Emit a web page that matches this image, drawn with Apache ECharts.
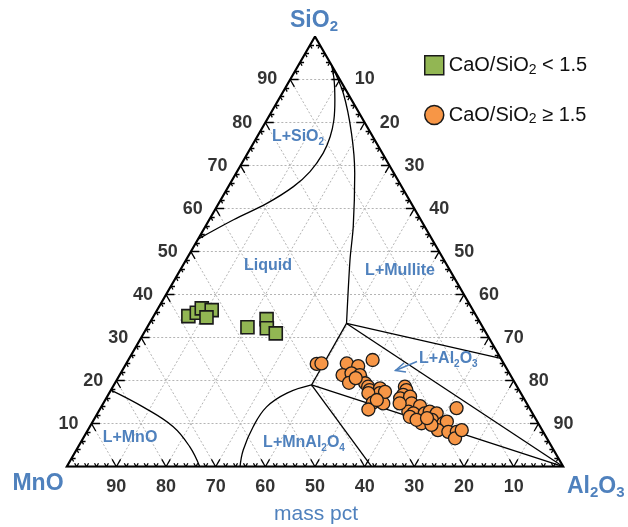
<!DOCTYPE html>
<html><head><meta charset="utf-8">
<script src="https://cdn.jsdelivr.net/npm/echarts@6/dist/echarts.min.js"></script>
<style>html,body{margin:0;padding:0;background:#fff}#c{width:628px;height:527px}</style>
</head><body><div id="c"></div>
<script>
// All compositions are [SiO2, Al2O3, MnO] in mass pct
const lowBasicity = [
  [35.0, 7.0, 58.0], [35.8, 8.3, 55.9], [36.8, 8.8, 54.4], [36.4, 11.0, 52.6], [34.7, 10.8, 54.5],
  [32.4, 20.2, 47.4], [34.3, 23.1, 42.6], [32.2, 24.2, 43.6], [31.0, 26.6, 42.4]
];
const highBasicity = [
  [23.9, 38.4, 37.7], [24.0, 39.3, 36.7], [24.0, 44.4, 31.6], [23.4, 47.0, 29.6], [24.8, 49.2, 26.0],
  [21.3, 44.9, 33.8], [21.7, 46.5, 31.8], [21.3, 48.4, 30.3], [19.5, 47.1, 33.4], [19.4, 50.4, 30.2],
  [18.6, 51.4, 30.0], [17.8, 52.1, 30.1], [18.2, 54.0, 27.8], [17.1, 54.5, 28.4], [17.1, 52.2, 30.7],
  [14.9, 54.2, 30.9], [14.7, 56.4, 28.9], [13.3, 54.1, 32.6], [17.4, 55.4, 27.2], [18.6, 58.8, 22.6],
  [17.8, 59.5, 22.7], [16.7, 59.4, 23.9], [15.9, 59.2, 24.9], [16.3, 61.0, 22.7], [14.7, 62.1, 23.2],
  [14.1, 64.1, 21.8], [12.8, 62.4, 24.8], [12.4, 63.6, 24.0], [12.4, 65.9, 21.7], [12.8, 66.7, 20.5],
  [12.4, 68.3, 19.3], [11.6, 63.3, 25.1], [10.1, 66.4, 23.5], [10.9, 68.1, 21.0], [10.1, 70.8, 19.1],
  [10.5, 71.3, 18.2], [8.5, 70.5, 21.0], [8.1, 72.8, 19.1], [8.1, 74.5, 17.4], [6.6, 74.9, 18.5],
  [8.5, 75.3, 16.2], [13.6, 71.7, 14.7], [20.6, 47.9, 31.5], [14.7, 59.7, 25.6], [10.9, 65.0, 24.1],
  [9.7, 68.6, 21.7], [11.3, 66.9, 21.8], [15.5, 54.7, 29.8]
];
// phase boundaries
const curveSiO2 = [
  [52.9, 0, 47.1], [57.4, 4.9, 37.7], [61.2, 9.7, 29.1], [65.1, 13.1, 21.8], [68.6, 14.7, 16.7],
  [72.9, 15.2, 11.9], [76.7, 14.7, 8.6], [80.6, 13.5, 5.9], [85.2, 11.4, 3.4], [89.9, 8.9, 1.2], [93.3, 6.7, 0]
];
const curveMullite = [
  [93.3, 6.7, 0], [86.8, 12.3, 0.9], [77.5, 18.6, 3.9], [68.2, 23.9, 7.9], [55.8, 29.8, 14.4],
  [48.1, 33.0, 18.9], [33.3, 39.7, 27.0]
];
const curveMnO = [
  [17.8, 0, 82.2], [13.9, 8.4, 77.7], [9.3, 16.8, 73.9], [4.6, 22.5, 72.9], [0, 26.8, 73.2]
];
const curveMnAl2O4 = [
  [19.0, 39.8, 41.2], [17.1, 35.8, 47.1], [13.9, 33.3, 52.8], [9.3, 32.9, 57.8], [3.9, 33.6, 62.5], [0, 34.9, 65.1]
];
const straightBoundaries = [
  [[33.3, 39.7, 27.0], [25.2, 74.8, 0]],
  [[33.3, 39.7, 27.0], [0, 100, 0]],
  [[19.0, 39.8, 41.2], [0, 100, 0]],
  [[19.0, 39.8, 41.2], [33.3, 39.7, 27.0]],
  [[19.0, 39.8, 41.2], [0, 61.4, 38.6]]
];
const majorTicks = [10, 20, 30, 40, 50, 60, 70, 80, 90];
const minorTicks = [2, 4, 6, 8, 12, 14, 16, 18, 22, 24, 26, 28, 32, 34, 36, 38, 42, 44, 46, 48,
  52, 54, 56, 58, 62, 64, 66, 68, 72, 74, 76, 78, 82, 84, 86, 88, 92, 94, 96, 98];

const S3 = Math.sqrt(3) / 2;
function T(p) { return [p[1] + p[0] / 2, p[0] * S3]; }
const BLUE = '#4f81bd';
const FONT = '"Liberation Sans", Arial, sans-serif';

// gridlines
const gridData = [];
majorTicks.forEach(v => {
  gridData.push({coords: [T([v, 0, 100 - v]), T([v, 100 - v, 0])]});
  gridData.push({coords: [T([0, v, 100 - v]), T([100 - v, v, 0])]});
  gridData.push({coords: [T([0, 100 - v, v]), T([100 - v, 0, v])]});
});
// ticks (short inward strokes along grid directions)
const tickData = [];
function addTicks(vals, len) {
  vals.forEach(v => {
    const L = T([v, 0, 100 - v]);          // left edge, SiO2 = v
    tickData.push({coords: [L, [L[0] + len, L[1]]]});
    tickData.push({coords: [L, [L[0] + len * 0.5, L[1] - len * S3]]});
    const R = T([100 - v, v, 0]);          // right edge, Al2O3 = v
    tickData.push({coords: [R, [R[0] - len, R[1]]]});
    tickData.push({coords: [R, [R[0] - len * 0.5, R[1] - len * S3]]});
    const B = T([0, 100 - v, v]);          // bottom edge, MnO = v
    tickData.push({coords: [B, [B[0] + len * 0.5, B[1] + len * S3]]});
    tickData.push({coords: [B, [B[0] - len * 0.5, B[1] + len * S3]]});
  });
}
addTicks(majorTicks, 1.7);
addTicks(minorTicks, 0.8);

const leftLabels = majorTicks.map(v => T([v, 0, 100 - v]).concat([v]));
const rightLabels = majorTicks.map(v => T([100 - v, v, 0]).concat([v]));
const bottomLabels = majorTicks.map(v => T([0, 100 - v, v]).concat([v]));

function labelSeries(data, pos, dist) {
  return {
    type: 'scatter', data: data, symbolSize: 0, silent: true,
    label: {show: true, position: pos, distance: dist, formatter: p => p.value[2],
      fontFamily: FONT, fontWeight: 'bold', fontSize: 18, color: '#000'}
  };
}
const lineSeries = (pts, smooth) => ({
  type: 'line', data: pts.map(T), smooth: smooth, symbol: 'none', silent: true,
  lineStyle: {color: '#000', width: 1.3}
});

const chart = echarts.init(document.getElementById('c'), null, {renderer: 'canvas'});
const subRich = (size, weight) => ({
  b: {fontSize: size, fontWeight: weight, fontFamily: FONT, fill: BLUE, color: BLUE, lineHeight: size + 4},
  s: {fontSize: Math.round(size * 0.65), fontWeight: weight, fontFamily: FONT, fill: BLUE, color: BLUE,
      verticalAlign: 'bottom', lineHeight: size + 4}
});
function txt(text, x, y, size, weight, align) {
  return {type: 'text', x: x, y: y, silent: true, z: 100,
    style: {text: text, rich: subRich(size, weight), align: align || 'center', verticalAlign: 'middle',
      fontSize: size, fontWeight: weight, fontFamily: FONT, fill: BLUE}};
}

chart.setOption({
  animation: false,
  grid: {left: 66.7, top: 36.5, width: 496.6, height: 430.2},
  xAxis: {type: 'value', min: 0, max: 100, show: false},
  yAxis: {type: 'value', min: 0, max: 100 * S3, show: false},
  legend: {
    orient: 'vertical', left: 424, top: 55, padding: 0, itemWidth: 19, itemHeight: 19, itemGap: 28,
    data: [
      {name: 'low', icon: 'rect', itemStyle: {color: '#92b653', borderColor: '#1a1a1a', borderWidth: 1.5}},
      {name: 'high', icon: 'circle', itemStyle: {color: '#f79646', borderColor: '#1a1a1a', borderWidth: 1.5}}
    ],
    formatter: n => n === 'low' ? '{t|CaO/SiO}{s|2}{t| < 1.5}' : '{t|CaO/SiO}{s|2}{t| \u2265 1.5}',
    textStyle: {fontFamily: FONT, fontSize: 20, color: '#111',
      rich: {t: {fontFamily: FONT, fontSize: 20, color: '#111', lineHeight: 23},
             s: {fontFamily: FONT, fontSize: 14, color: '#111', verticalAlign: 'bottom', lineHeight: 23}}}
  },
  graphic: [
    txt('{b|SiO}{s|2}', 314, 21, 23, 'bold'),
    txt('{b|MnO}', 38, 484, 23, 'bold'),
    txt('{b|Al}{s|2}{b|O}{s|3}', 567, 487, 23, 'bold', 'left'),
    txt('{b|mass pct}', 316, 514, 21, 'normal'),
    txt('{b|L+SiO}{s|2}', 298, 137, 16, 'bold'),
    txt('{b|Liquid}', 268, 266, 16, 'bold'),
    txt('{b|L+Mullite}', 400, 271, 16, 'bold'),
    txt('{b|L+Al}{s|2}{b|O}{s|3}', 419, 359, 16, 'bold', 'left'),
    txt('{b|L+MnO}', 130, 438, 16, 'bold'),
    txt('{b|L+MnAl}{s|2}{b|O}{s|4}', 304, 443, 16, 'bold'),
    {type: 'polyline', silent: true, z: 100, shape: {points: [[417, 361.5], [395.5, 370.5]]},
      style: {stroke: BLUE, lineWidth: 1.5, fill: null}},
    {type: 'polyline', silent: true, z: 100, shape: {points: [[404, 363], [395.5, 370.5], [406, 372]]},
      style: {stroke: BLUE, lineWidth: 1.5, fill: null}}
  ],
  series: [
    {type: 'lines', coordinateSystem: 'cartesian2d', data: gridData, silent: true,
      lineStyle: {color: '#b4b4b4', width: 1, type: [2, 2], opacity: 1}},
    {type: 'lines', coordinateSystem: 'cartesian2d', data: tickData, silent: true,
      lineStyle: {color: '#000', width: 1.3, opacity: 1}},
    lineSeries(curveSiO2, 0.35),
    lineSeries(curveMullite, 0.3),
    lineSeries(curveMnO, 0.4),
    lineSeries(curveMnAl2O4, 0.4),
    {type: 'lines', coordinateSystem: 'cartesian2d', silent: true,
      data: straightBoundaries.map(s => ({coords: s.map(T)})),
      lineStyle: {color: '#000', width: 1.3, opacity: 1}},
    {type: 'line', data: [[100, 0, 0], [0, 0, 100], [0, 100, 0], [100, 0, 0]].map(T), symbol: 'none',
      silent: true, lineStyle: {color: '#000', width: 2.2, join: 'miter'}},
    labelSeries(leftLabels, 'left', 13),
    labelSeries(rightLabels, 'right', 15),
    labelSeries(bottomLabels, 'bottom', 11),
    {name: 'low', type: 'scatter', data: lowBasicity.map(T), symbol: 'rect', symbolSize: 13,
      itemStyle: {color: '#92b653', borderColor: '#1a1a1a', borderWidth: 1.6, opacity: 1}},
    {name: 'high', type: 'scatter', data: highBasicity.map(T), symbol: 'circle', symbolSize: 13,
      itemStyle: {color: '#f79646', borderColor: '#1a1a1a', borderWidth: 1.3, opacity: 1}}
  ]
});
</script></body></html>
